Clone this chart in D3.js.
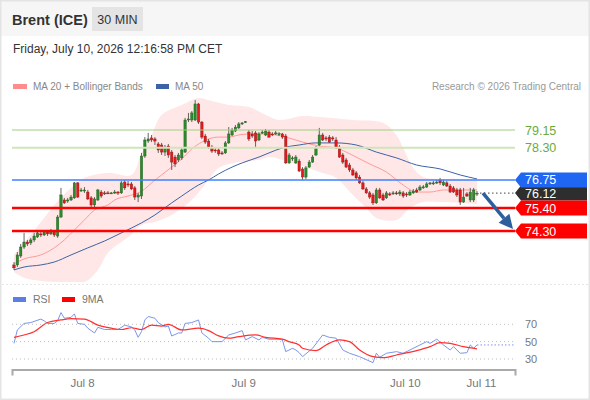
<!DOCTYPE html>
<html><head><meta charset="utf-8">
<script src="https://cdn.jsdelivr.net/npm/d3@7"></script>
<style>
html,body{margin:0;padding:0;background:#fff;}
svg{display:block;font-family:"Liberation Sans",Arial,Helvetica,sans-serif;}
</style></head><body>
<svg id="c" width="590" height="400"></svg>
<script>
// ---------- DATA ----------
const candleOpen = [
72.67,72.67,73.10,73.53,73.77,73.73,73.87,74.01,74.16,74.11,
74.25,74.16,74.25,74.06,74.97,75.79,75.74,75.79,75.89,76.61,
76.22,76.22,76.17,75.89,75.55,75.79,76.17,76.13,76.13,76.12,
76.13,76.17,76.13,76.65,76.56,76.56,76.37,75.93,75.98,77.90,
78.62,78.77,78.72,78.48,78.43,78.09,78.38,78.09,77.85,77.71,
77.81,78.09,79.63,79.63,79.63,80.40,79.53,78.86,78.62,78.33,
78.19,78.19,78.05,78.05,78.53,78.91,79.10,79.25,79.44,79.53,
79.05,78.96,79.01,78.67,79.01,78.91,79.05,78.96,78.96,78.96,
78.96,78.86,77.57,77.76,77.57,77.66,77.28,76.89,77.37,77.61,
77.95,78.43,78.91,78.77,78.81,78.77,78.67,78.33,77.95,77.71,
77.47,77.23,77.09,76.89,76.61,76.32,76.13,76.03,75.65,76.27,
76.03,75.89,76.08,76.08,76.13,76.08,76.13,76.08,76.03,76.13,
76.27,76.27,76.41,76.41,76.56,76.56,76.61,76.75,76.51,76.61,
76.46,76.37,76.27,76.27,75.69,76.08,75.79,75.79,76.08];
const candleHigh = [
72.81,73.29,73.68,74.21,73.87,73.97,74.21,74.35,74.25,74.35,
74.35,74.40,74.35,75.07,76.37,75.89,75.89,76.03,76.65,76.65,
76.37,76.41,76.27,75.98,75.93,76.32,76.27,76.22,76.22,76.17,
76.27,76.22,76.70,76.75,76.70,76.65,76.46,76.13,78.05,78.81,
79.01,78.91,78.81,78.57,78.53,78.43,78.48,78.19,77.95,78.05,
78.29,79.73,79.97,80.06,80.59,80.45,79.58,78.96,78.72,78.43,
78.29,78.29,78.14,78.62,79.29,79.25,79.39,79.53,79.53,79.58,
79.15,79.10,79.10,79.05,79.15,79.20,79.15,79.05,79.10,79.05,
79.01,78.96,78.05,77.90,77.95,77.76,77.37,77.42,77.71,77.95,
78.38,79.25,79.01,78.86,78.91,78.86,78.81,78.43,78.05,77.81,
77.57,77.33,77.18,76.99,76.70,76.41,76.22,76.13,76.37,76.37,
76.13,76.22,76.17,76.22,76.22,76.27,76.22,76.17,76.27,76.32,
76.37,76.51,76.51,76.65,76.65,76.70,76.75,76.85,76.75,76.70,
76.56,76.46,76.37,76.37,76.37,76.17,76.37,76.37,76.22];
const candleLow = [
72.43,72.57,73.01,73.44,73.58,73.63,73.77,73.97,74.01,74.06,
74.06,74.11,74.01,73.97,74.93,75.60,75.65,75.74,75.84,75.89,
76.17,76.13,75.79,75.45,75.45,75.74,75.89,76.03,76.08,76.08,
76.08,76.03,76.08,76.27,76.41,76.27,75.79,75.69,75.84,77.81,
78.53,78.57,78.43,78.05,77.95,77.90,77.81,77.23,77.37,77.61,
77.71,78.05,79.53,79.53,79.58,79.44,78.72,78.48,78.24,78.05,
78.05,77.90,77.95,78.00,78.48,78.86,79.05,79.20,79.39,79.49,
78.62,78.77,78.33,78.62,78.96,78.86,78.77,78.86,78.91,78.86,
78.72,77.52,77.52,77.66,77.52,77.13,76.75,76.80,77.33,77.57,
77.90,78.38,78.62,78.62,78.53,78.62,78.24,77.81,77.52,77.33,
77.13,76.94,76.75,76.56,76.27,76.08,75.84,75.55,75.60,75.84,
75.74,75.84,75.98,76.03,76.03,75.98,75.89,75.93,75.98,76.08,
76.13,76.22,76.32,76.37,76.51,76.51,76.56,76.51,76.46,76.41,
76.13,76.13,75.93,75.55,75.65,75.93,75.69,75.69,75.98];
const candleClose = [
72.53,73.15,73.53,73.77,73.68,73.87,74.06,74.21,74.11,74.25,
74.16,74.25,74.11,74.97,76.03,75.65,75.79,75.93,76.61,75.93,
76.27,76.27,75.84,75.55,75.84,76.27,75.98,76.08,76.12,76.13,
76.17,76.12,76.61,76.37,76.51,76.32,75.93,76.03,77.90,78.67,
78.72,78.67,78.62,78.19,78.09,78.33,77.95,77.61,77.52,77.95,
78.19,79.63,79.68,79.97,80.40,79.53,78.81,78.57,78.33,78.14,
78.17,78.00,78.03,78.53,78.96,79.15,79.29,79.44,79.49,79.55,
78.72,78.86,78.62,78.96,79.05,79.10,78.81,78.95,79.01,78.97,
78.81,77.57,77.95,77.81,77.85,77.18,76.89,77.33,77.61,77.85,
78.29,78.91,78.67,78.72,78.57,78.72,78.29,77.85,77.61,77.37,
77.23,76.99,76.85,76.61,76.32,76.13,75.93,75.65,76.27,75.89,
75.79,76.13,76.07,76.13,76.12,76.17,75.98,76.03,76.17,76.22,
76.17,76.41,76.42,76.56,76.61,76.61,76.65,76.61,76.65,76.46,
76.17,76.17,76.03,75.69,75.93,75.98,76.17,76.27,76.12];

const ma20Slots  = [0,3,8,12,15,18,21,24,28,30,34,37,39,41,44,47,50,53,56,58,61,64,67,70,74,78,81,86,91,96,99,102,106,111,116,120,124,128,133,138];
const ma20Values = [72.72,72.96,73.15,73.49,73.87,74.35,74.83,75.31,75.55,75.79,75.98,76.13,76.32,76.61,76.99,77.37,77.76,78.24,78.57,78.72,78.81,78.81,78.91,78.96,78.96,78.91,78.81,78.57,78.38,78.29,78.09,77.85,77.52,77.13,76.51,76.17,76.17,76.27,76.27,76.27];

const ma50Slots  = [0,3,8,12,17,22,27,32,38,42,47,50,55,58,61,65,68,73,76,80,85,90,96,102,108,114,120,127,133,138];
const ma50Values = [72.43,72.57,72.67,72.81,73.15,73.49,73.82,74.21,74.69,75.07,75.65,75.98,76.51,76.75,77.04,77.37,77.57,77.85,78.05,78.29,78.43,78.53,78.53,78.43,78.09,77.81,77.47,77.28,76.99,76.80];

const bbUpperSlots  = [0,3,8,12,17,21,28,35,38,41,44,50,55,59,64,70,75,79,86,91,101,110,114,116,119,122,127,133,138];
const bbUpperValues = [73.15,73.73,74.73,75.55,76.37,76.85,77.09,76.99,78.05,78.91,79.87,80.35,80.69,80.54,80.35,80.25,79.87,79.63,79.82,79.77,79.63,79.49,78.91,78.29,77.33,76.89,76.80,76.80,76.70];
const bbLowerSlots  = [0,3,8,14,21,25,28,34,38,42,47,53,58,61,67,73,76,82,91,96,101,105,108,114,118,122,127,133,138];
const bbLowerValues = [72.33,72.05,71.90,71.85,71.85,72.43,73.25,74.01,74.59,74.73,75.07,75.79,76.75,77.33,77.61,77.71,77.85,77.61,77.13,76.85,76.03,75.41,74.93,74.83,75.41,75.69,75.69,75.65,75.60];

const rsiSlots  = [0,1,3,5,8,9,10,12,13,14,15,17,18,19,21,22,24,25,27,29,31,33,35,36,37,38,39,40,42,43,45,46,47,49,50,51,53,55,56,58,59,62,64,66,68,69,71,73,74,76,79,80,81,83,84,85,86,89,92,94,96,98,100,103,107,108,109,111,114,116,118,121,123,124,126,128,130,131,133,135,136,137,138];
const rsiValues = [48,63.5,71,72,76,74,71,71,74,83.5,77,78,82,71,70,65.5,60,66.5,64,64,64,69,67,63.5,55,61.5,75,79,77,72,67,68,56.5,60,60,71,72,75,60,54,50,50,57.7,60,62.7,52,55.8,52,55,52.8,52.8,52,38.5,42.3,40.4,37.3,32.7,42.4,57.7,55,54,40.4,36.6,32.7,25.8,36.6,32,36.6,38.5,36.6,40.4,46.2,50,48,52.8,46.2,40.4,44.2,36.6,37.3,46.2,42.4,46.2];
const rsiMaSlots  = [0,3,6,10,14,17,21,25,29,32,35,38,41,44,46,50,55,58,61,64,67,72,75,80,82,85,86,90,93,97,100,103,107,110,114,120,124,127,130,134,138];
const rsiMaValues = [55,57.7,61.5,72,75,76.5,76,69,65.5,64,66,64,69,68,70,63.5,65.5,62.7,56.6,54,55.8,57.7,55,53,50,46.2,42.4,39.6,46.2,52,50,40.4,32.7,31.5,34.6,39.6,44.2,48.8,48,44.2,41.6];

const levelValues = [79.15, 78.30, 76.75, 76.12, 75.40, 74.30];
const levelKinds  = ["res1", "res2", "pivot", "last", "sup", "sup"];
const rsiLevels = [70, 50, 30];
const xTickSlots  = [20.3, 68.3, 116.5, 139.2];
const xTickLabels = ["Jul 8", "Jul 9", "Jul 10", "Jul 11"];
const targetPrice = 74.30;

// ---------- LAYOUT ----------
const W = 590, H = 400;
const plotL = 12, plotR = 515, plotT = 95, plotB = 282;
const svg = d3.select("#c");

const x = d3.scaleLinear().domain([0, candleClose.length - 1]).range([14, 477]);
const y = d3.scaleLinear().domain([74.30, 79.15]).range([231, 130]);
const yR = d3.scaleLinear().domain([30, 70]).range([359, 324.3]);
const step = x(1) - x(0);

// background + header
svg.append("rect").attr("width", W).attr("height", H).attr("fill", "#fff");
svg.append("rect").attr("width", W).attr("height", 36).attr("fill", "#f6f6f6");
svg.append("rect").attr("x", 0.75).attr("y", 0.75).attr("width", W - 1.5).attr("height", H - 1.5)
  .attr("fill", "none").attr("stroke", "#e4e4e4").attr("stroke-width", 1.5);

svg.append("text").attr("x", 12).attr("y", 25).attr("font-size", 14.5).attr("font-weight", "bold")
  .attr("fill", "#333").text("Brent (ICE)");
svg.append("rect").attr("x", 92).attr("y", 7).attr("width", 51).attr("height", 24).attr("fill", "#e4e4e4");
svg.append("text").attr("x", 117.5).attr("y", 24).attr("text-anchor", "middle").attr("font-size", 12.5)
  .attr("fill", "#333").text("30 MIN");
svg.append("text").attr("x", 13).attr("y", 53).attr("font-size", 12).attr("fill", "#333")
  .text("Friday, July 10, 2026 12:16:58 PM CET");

// legend
svg.append("rect").attr("x", 13).attr("y", 84).attr("width", 14).attr("height", 5).attr("fill", "#ff8c8c");
svg.append("text").attr("x", 33).attr("y", 90).attr("font-size", 10).attr("fill", "#888").text("MA 20 + Bollinger Bands");
svg.append("rect").attr("x", 156).attr("y", 84).attr("width", 13).attr("height", 5).attr("fill", "#3b63a6");
svg.append("text").attr("x", 175).attr("y", 90).attr("font-size", 10).attr("fill", "#888").text("MA 50");
svg.append("text").attr("x", 581).attr("y", 90).attr("text-anchor", "end").attr("font-size", 10)
  .attr("fill", "#999").text("Research \u00a9 2026 Trading Central");

// clip
const defs = svg.append("defs");
defs.append("clipPath").attr("id", "pc").append("rect")
  .attr("x", plotL).attr("y", plotT).attr("width", plotR - plotL).attr("height", plotB - plotT);
const main = svg.append("g").attr("clip-path", "url(#pc)");

// Bollinger band
const upPts = bbUpperSlots.map((s, i) => [x(s), y(bbUpperValues[i])]);
const loPts = bbLowerSlots.map((s, i) => [x(s), y(bbLowerValues[i])]).reverse();
const cr = d3.line().curve(d3.curveCatmullRom.alpha(0.5));
const upPath = cr(upPts), loPath = cr(loPts);
main.append("path").attr("d", upPath + "L" + loPath.slice(1) + "Z").attr("fill", "#ffe7e7");

// level lines
const levelStyle = {
  res1: {stroke: "#9fd07a", w: 1},
  res2: {stroke: "#cfe6b9", w: 2},
  pivot: {stroke: "#3f80ff", w: 1.6},
  sup: {stroke: "#ff0000", w: 2.5}
};
levelValues.forEach((v, i) => {
  const k = levelKinds[i];
  if (k === "last") return;
  svg.append("line").attr("x1", plotL).attr("x2", plotR).attr("y1", y(v)).attr("y2", y(v))
    .attr("stroke", levelStyle[k].stroke).attr("stroke-width", levelStyle[k].w);
});

// MA lines
const lineGen = d3.line().curve(d3.curveMonotoneX);
main.append("path").attr("d", lineGen(ma20Slots.map((s, i) => [x(s), y(ma20Values[i])])))
  .attr("fill", "none").attr("stroke", "#ff9999").attr("stroke-width", 1);
main.append("path").attr("d", lineGen(ma50Slots.map((s, i) => [x(s), y(ma50Values[i])])))
  .attr("fill", "none").attr("stroke", "#3b63a6").attr("stroke-width", 1);

// candles
const cg = main.append("g");
const bw = step * 0.72;
candleClose.forEach((c, i) => {
  const o = candleOpen[i], h = candleHigh[i], l = candleLow[i];
  const cx = x(i);
  const up = c >= o;
  cg.append("line").attr("x1", cx).attr("x2", cx).attr("y1", y(h)).attr("y2", y(l))
    .attr("stroke", "#555").attr("stroke-width", 0.9);
  const top = y(Math.max(o, c)), bot = y(Math.min(o, c));
  const hh = Math.max(1, bot - top);
  cg.append("rect").attr("x", cx - bw / 2).attr("y", top).attr("width", bw).attr("height", hh)
    .attr("fill", up ? "#2b8a2b" : "#e3191b")
    .attr("stroke", up ? "#1f5c1f" : "#8c1414").attr("stroke-width", 0.4);
});

// last price dotted line
const lastIdx = candleClose.length - 1;
svg.append("line").attr("x1", x(lastIdx) + 3).attr("x2", plotR).attr("y1", y(levelValues[3])).attr("y2", y(levelValues[3]))
  .attr("stroke", "#444").attr("stroke-width", 1).attr("stroke-dasharray", "1.5,2.5");

// arrow
const ax0 = x(lastIdx) + 6, ay0 = y(levelValues[3]);
const ax1 = plotR - 2, ay1 = y(targetPrice) - 2;
const ang = Math.atan2(ay1 - ay0, ax1 - ax0);
const headL = 14, headW = 7;
const bx = ax1 - headL * Math.cos(ang), by = ay1 - headL * Math.sin(ang);
svg.append("line").attr("x1", ax0).attr("y1", ay0).attr("x2", bx).attr("y2", by)
  .attr("stroke", "#2d5f9e").attr("stroke-width", 3.5);
svg.append("path").attr("d",
  `M${ax1},${ay1}L${bx + headW * Math.sin(ang)},${by - headW * Math.cos(ang)}L${bx - headW * Math.sin(ang)},${by + headW * Math.cos(ang)}Z`)
  .attr("fill", "#2d5f9e");

// right labels
const boxFill = {pivot: "#1f66f2", last: "#2e2e2e", sup: "#ff0000"};
const drawOrder = [3, 2, 4, 5];
drawOrder.forEach(i => {
  const v = levelValues[i], k = levelKinds[i], cy = y(v);
  svg.append("path").attr("d", `M515,${cy}L521,${cy - 7.5}L587,${cy - 7.5}L587,${cy + 7.5}L521,${cy + 7.5}Z`)
    .attr("fill", boxFill[k]);
  svg.append("text").attr("x", 525).attr("y", cy + 4.5).attr("font-size", 12.5).attr("fill", "#fff").text(v.toFixed(2));
});
[0, 1].forEach(i => {
  const v = levelValues[i];
  svg.append("text").attr("x", 525).attr("y", y(v) + 4.5).attr("font-size", 12.5).attr("fill", "#6aab3a").text(v.toFixed(2));
});

// separator
svg.append("line").attr("x1", 2).attr("x2", W - 2).attr("y1", 284.5).attr("y2", 284.5)
  .attr("stroke", "#e6e6e6").attr("stroke-dasharray", "2,2");

// RSI legend
svg.append("rect").attr("x", 13).attr("y", 297).attr("width", 13).attr("height", 5).attr("fill", "#5b7fe2");
svg.append("text").attr("x", 33).attr("y", 303).attr("font-size", 10.5).attr("fill", "#777").text("RSI");
svg.append("rect").attr("x", 62).attr("y", 297).attr("width", 13).attr("height", 5).attr("fill", "#ff0000");
svg.append("text").attr("x", 82).attr("y", 303).attr("font-size", 10.5).attr("fill", "#777").text("9MA");

// RSI grid
rsiLevels.forEach(v => {
  svg.append("line").attr("x1", plotL).attr("x2", plotR).attr("y1", yR(v)).attr("y2", yR(v))
    .attr("stroke", "#bdbdbd").attr("stroke-width", 1).attr("stroke-dasharray", "1,3");
  svg.append("text").attr("x", 525).attr("y", yR(v) + 4).attr("font-size", 11).attr("fill", "#777").text(v);
});

// RSI lines
svg.append("path").attr("d", d3.line()(rsiSlots.map((s, i) => [x(s), yR(rsiValues[i])])))
  .attr("fill", "none").attr("stroke", "#7b96ea").attr("stroke-width", 1);
svg.append("line").attr("x1", x(rsiSlots[rsiSlots.length - 1])).attr("x2", plotR)
  .attr("y1", yR(rsiValues[rsiValues.length - 1])).attr("y2", yR(rsiValues[rsiValues.length - 1]))
  .attr("stroke", "#7b96ea").attr("stroke-width", 1).attr("stroke-dasharray", "1.5,2");
svg.append("path").attr("d", d3.line().curve(d3.curveMonotoneX)(rsiMaSlots.map((s, i) => [x(s), yR(rsiMaValues[i])])))
  .attr("fill", "none").attr("stroke", "#ff3030").attr("stroke-width", 1.2);

// X axis
const axScale = x.copy().domain([x.invert(plotL), x.invert(plotR)]).range([plotL, plotR]);
const axis = d3.axisBottom(axScale).tickValues(xTickSlots).tickFormat((d, i) => xTickLabels[i])
  .tickSizeInner(0).tickSizeOuter(6).tickPadding(9);
const ag = svg.append("g").attr("transform", "translate(0,369.5)").call(axis);
ag.select(".domain").attr("stroke", "#aaa").attr("stroke-width", 2);
ag.selectAll(".tick line").remove();
ag.selectAll(".tick text").attr("font-size", 11.5).attr("fill", "#777")
  .attr("font-family", "'Liberation Sans',Arial,sans-serif");
</script>
</body></html>
